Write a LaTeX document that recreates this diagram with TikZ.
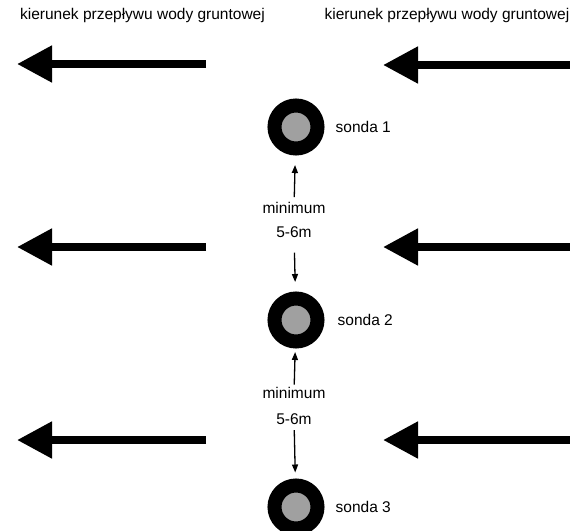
\documentclass[tikz,border=0pt]{standalone}
\usepackage{fontspec}
\setmainfont{Liberation Sans}
\usepackage{tikz}
\usetikzlibrary{arrows.meta,positioning}
\definecolor{sondagrey}{RGB}{160,160,160}

\begin{document}
\begin{tikzpicture}[x=1pt,y=-1pt,
    txt/.style={font=\fontsize{15.5}{18}\selectfont,inner sep=0pt},
    sonda/.style={circle,draw=black,line width=14pt,fill=sondagrey,minimum size=43pt,inner sep=0pt},
    flow/.style={line width=8pt,-{Triangle[length=35pt,width=35pt]}},
    dist/.style={line width=1.3pt,-{Triangle[length=8pt,width=6pt]}}]
      \useasboundingbox (0,0) rectangle (570,530);

      % titles
      \node[txt] (tl) at (142.5,15) {kierunek przepływu wody gruntowej};
      \node[txt,anchor=east] (tr) at (569.5,15) {kierunek przepływu wody gruntowej};

      % flow arrows
      \coordinate (l1s) at (206,64);  \coordinate (l1e) at (17,64);
      \coordinate (l2s) at (206,247); \coordinate (l2e) at (17,247);
      \coordinate (l3s) at (206,440); \coordinate (l3e) at (17,440);
      \coordinate (r1s) at (575,65);  \coordinate (r1e) at (383,65);
      \coordinate (r2s) at (575,247); \coordinate (r2e) at (383,247);
      \coordinate (r3s) at (575,440); \coordinate (r3e) at (383,440);
      \foreach \r in {1,2,3}{
        \draw[flow] (l\r s) -- (l\r e);
        \draw[flow] (r\r s) -- (r\r e);
      }

      % probes
      \node[sonda,label={[txt,label distance=11pt]right:sonda 1}] (s1) at (296,127) {};
      \node[sonda,label={[txt,label distance=13pt]right:sonda 2}] (s2) at (296,320) {};
      \node[sonda,label={[txt,label distance=11pt]right:sonda 3}] (s3) at (296,507) {};

      % distances
      \node[txt] (m1) at (294,208) {minimum};
      \node[txt] (d1) at (294,232) {5-6m};
      \node[txt] (m2) at (294,393) {minimum};
      \node[txt] (d2) at (294,419) {5-6m};

      \draw[dist,shorten <=5pt,shorten >=9.5pt] (m1) -- (s1);
      \draw[dist,shorten <=15pt,shorten >=9.5pt] (d1) -- (s2);
      \draw[dist,shorten <=2.5pt,shorten >=3.5pt] (m2) -- (s2);
      \draw[dist,shorten <=5.5pt,shorten >=6pt] (d2) -- (s3);
    \end{tikzpicture}
\end{document}
